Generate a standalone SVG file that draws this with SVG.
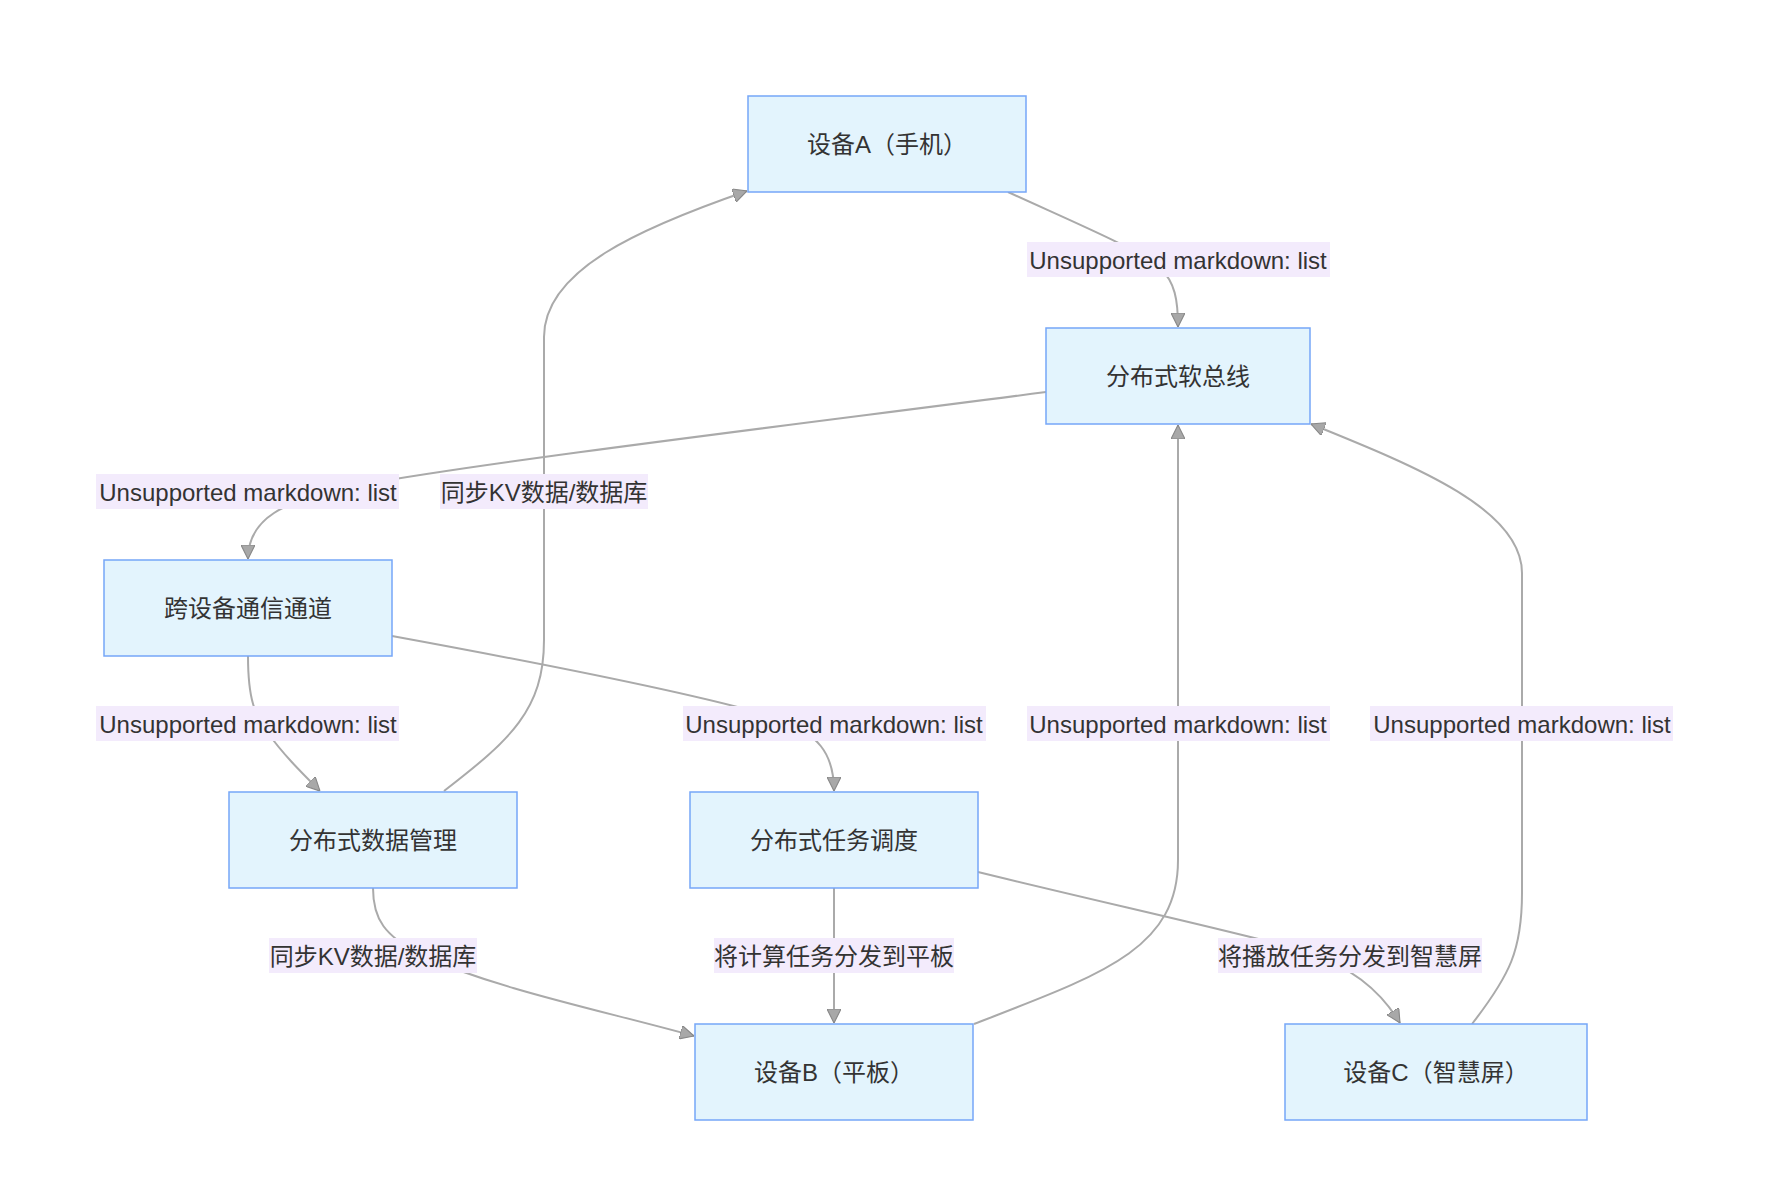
<svg xmlns="http://www.w3.org/2000/svg" width="1770" height="1182" viewBox="0 0 1770 1182">
<style>
  .node rect { fill: #e3f4fd; stroke: #76a6f8; stroke-width: 1.5; }
  .node text { font-family: "Liberation Sans", "Noto Sans CJK SC", sans-serif; font-size: 24px; fill: #333333; text-anchor: middle; dominant-baseline: central; }
  .edge { fill: none; stroke: #aaaaaa; stroke-width: 2; marker-end: url(#arrow); }
  .lbl rect { fill: #f3ebfc; }
  .lbl text { font-family: "Liberation Sans", "Noto Sans CJK SC", sans-serif; font-size: 24px; fill: #333333; text-anchor: middle; dominant-baseline: central; }
</style>
<defs>
  <marker id="arrow" viewBox="0 0 10 10" refX="10" refY="5" markerUnits="userSpaceOnUse" markerWidth="14" markerHeight="14" orient="auto">
    <path d="M0,0 L10,5 L0,10 z" fill="#a8a8a8" stroke="#888888" stroke-width="0.8"/>
  </marker>
</defs>
<rect width="1770" height="1182" fill="#ffffff"/>
<g id="connectors">
  <path class="edge" d="M1008,192 C1080,225 1140,250 1160,268 C1175,282 1178,300 1178,327"/>
  <path class="edge" d="M1046,392 C800,424 500,460 360,485 C280,500 248,520 248,559"/>
  <path class="edge" d="M248,656 C248,700 255,715 268,733 C282,753 300,771 320,791"/>
  <path class="edge" d="M392,636 C550,665 700,695 770,716 C820,732 834,755 834,791"/>
  <path class="edge" d="M444,791 C510,740 544,710 544,640 L544,337 C544,270 640,228 747,191"/>
  <path class="edge" d="M373,888 C373,920 385,935 420,955 C500,990 600,1010 694,1036"/>
  <path class="edge" d="M834,888 L834,1023"/>
  <path class="edge" d="M978,872 C1100,902 1250,935 1300,950 C1350,965 1380,990 1400,1023"/>
  <path class="edge" d="M974,1024 C1100,975 1178,950 1178,860 L1178,425"/>
  <path class="edge" d="M1472,1024 C1510,975 1522,950 1522,893 L1522,573 C1522,510 1420,468 1311,424"/>
  <g class="lbl"><rect x="1027" y="242" width="303" height="35"/><text x="1178" y="260">Unsupported markdown: list</text></g>
  <g class="lbl"><rect x="96" y="474" width="303" height="35"/><text x="248" y="492">Unsupported markdown: list</text></g>
  <g class="lbl"><rect x="440" y="474" width="208" height="35"/><text x="544" y="492">同步KV数据/数据库</text></g>
  <g class="lbl"><rect x="96" y="706" width="303" height="35"/><text x="248" y="724">Unsupported markdown: list</text></g>
  <g class="lbl"><rect x="683" y="706" width="303" height="35"/><text x="834" y="724">Unsupported markdown: list</text></g>
  <g class="lbl"><rect x="1027" y="706" width="303" height="35"/><text x="1178" y="724">Unsupported markdown: list</text></g>
  <g class="lbl"><rect x="1370" y="706" width="303" height="35"/><text x="1522" y="724">Unsupported markdown: list</text></g>
  <g class="lbl"><rect x="269" y="938" width="208" height="35"/><text x="373" y="956">同步KV数据/数据库</text></g>
  <g class="lbl"><rect x="714" y="938" width="240" height="35"/><text x="834" y="956">将计算任务分发到平板</text></g>
  <g class="lbl"><rect x="1218" y="938" width="264" height="35"/><text x="1350" y="956">将播放任务分发到智慧屏</text></g>
</g>
<g id="node-A" class="node"><rect x="748" y="96" width="278" height="96"/><text x="887" y="144">设备A（手机）</text></g>
<g id="node-bus" class="node"><rect x="1046" y="328" width="264" height="96"/><text x="1178" y="376">分布式软总线</text></g>
<g id="node-channel" class="node"><rect x="104" y="560" width="288" height="96"/><text x="248" y="608">跨设备通信通道</text></g>
<g id="node-data" class="node"><rect x="229" y="792" width="288" height="96"/><text x="373" y="840">分布式数据管理</text></g>
<g id="node-task" class="node"><rect x="690" y="792" width="288" height="96"/><text x="834" y="840">分布式任务调度</text></g>
<g id="node-B" class="node"><rect x="695" y="1024" width="278" height="96"/><text x="834" y="1072">设备B（平板）</text></g>
<g id="node-C" class="node"><rect x="1285" y="1024" width="302" height="96"/><text x="1436" y="1072">设备C（智慧屏）</text></g>
</svg>
